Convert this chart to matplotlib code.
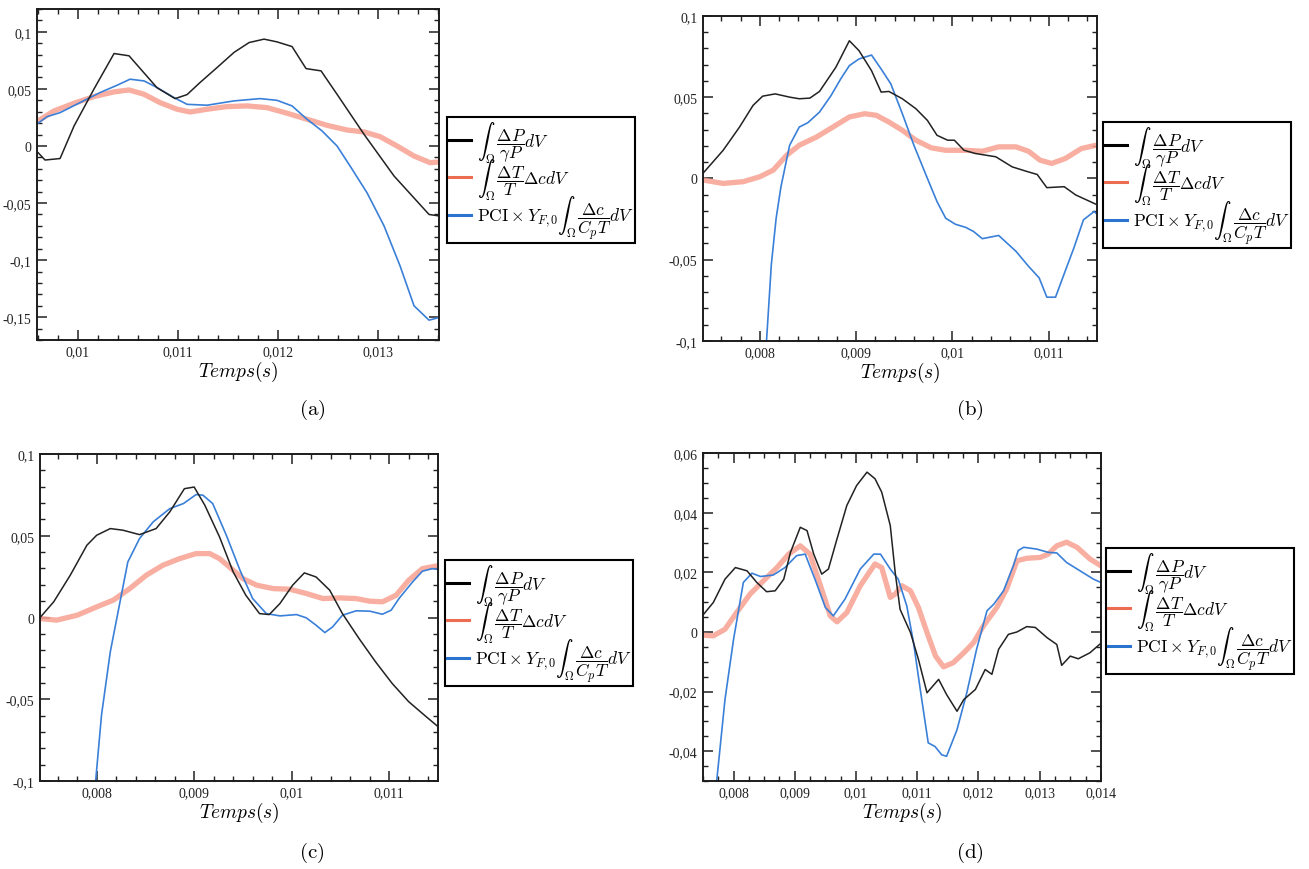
import matplotlib
matplotlib.use("Agg")
import matplotlib.pyplot as plt
from matplotlib.lines import Line2D
from matplotlib.ticker import MultipleLocator, FuncFormatter

plt.rcParams["font.family"] = "serif"
plt.rcParams["font.serif"] = ["Liberation Serif", "DejaVu Serif"]
plt.rcParams["mathtext.fontset"] = "cm"

# ---- (a) ----
a_black_t = [0.00960, 0.00967, 0.00982, 0.00996, 0.01016, 0.01036, 0.01051, 0.01079, 0.01097, 0.01109,
             0.01122, 0.01139, 0.01156, 0.01171, 0.01186, 0.01199, 0.01214, 0.01228, 0.01243, 0.01259,
             0.01286, 0.01316, 0.01351, 0.01362]
a_black_v = [-0.0058, -0.0123, -0.011, 0.0175, 0.050, 0.081, 0.079, 0.051, 0.0415, 0.045,
             0.0556, 0.0687, 0.082, 0.0906, 0.0936, 0.0912, 0.0871, 0.0678, 0.0658, 0.0453,
             0.0102, -0.0263, -0.060, -0.0614]
a_blue_t = [0.00960, 0.00969, 0.00982, 0.01002, 0.01022, 0.01039, 0.01052, 0.01066, 0.01079, 0.01096,
            0.01109, 0.01129, 0.01156, 0.01182, 0.01199, 0.01214, 0.01229, 0.01244, 0.01259, 0.01272,
            0.01289, 0.01306, 0.01322, 0.01336, 0.01351, 0.01362]
a_blue_v = [0.0199, 0.0257, 0.0292, 0.038, 0.0468, 0.0532, 0.0585, 0.057, 0.0512, 0.0424,
            0.0365, 0.0357, 0.0395, 0.0415, 0.040, 0.0351, 0.0234, 0.0132, 0.0, -0.0175,
            -0.041, -0.070, -0.105, -0.140, -0.1526, -0.150]
a_red_t = [0.00960, 0.00976, 0.00996, 0.01016, 0.01036, 0.01051, 0.01066, 0.01082, 0.01099, 0.01112,
           0.01129, 0.01149, 0.01169, 0.01189, 0.01209, 0.01229, 0.01249, 0.01269, 0.01286, 0.01302,
           0.01319, 0.01336, 0.01352, 0.01362]
a_red_v = [0.022, 0.0307, 0.0374, 0.0433, 0.0474, 0.0491, 0.0453, 0.038, 0.0322, 0.0298,
           0.0322, 0.0345, 0.0351, 0.0336, 0.0287, 0.0234, 0.0181, 0.014, 0.0123, 0.0082,
           0.0, -0.0088, -0.0146, -0.014]

# ---- (b) ----
b_black_t = [0.00741, 0.00762, 0.00779, 0.00793, 0.00803, 0.00816, 0.00831, 0.00841, 0.00852, 0.00862,
             0.00879, 0.00893, 0.00903, 0.00916, 0.00926, 0.00934, 0.00948, 0.00962, 0.00974, 0.00984,
             0.00995, 0.01002, 0.01012, 0.01024, 0.01045, 0.01062, 0.01076, 0.01088, 0.01098, 0.01116,
             0.01128, 0.01149]
b_black_v = [0.0031, 0.0173, 0.0316, 0.0449, 0.0506, 0.052, 0.050, 0.049, 0.0494, 0.0535,
             0.0684, 0.0847, 0.0786, 0.0663, 0.0531, 0.0535, 0.049, 0.0429, 0.0357, 0.0265,
             0.0235, 0.0235, 0.0173, 0.0153, 0.0133, 0.0071, 0.0045, 0.0024, -0.0057, -0.0051,
             -0.0102, -0.0159]
b_blue_t = [0.00807, 0.00812, 0.00817, 0.00822, 0.00831, 0.00841, 0.00850, 0.00862, 0.00874, 0.00884,
            0.00893, 0.00903, 0.00916, 0.00926, 0.00936, 0.00948, 0.00960, 0.00974, 0.00984, 0.00993,
            0.01003, 0.01014, 0.01022, 0.01031, 0.01048, 0.01066, 0.01079, 0.01090, 0.01098, 0.01107,
            0.01117, 0.01126, 0.01136, 0.01147, 0.01149]
b_blue_v = [-0.100, -0.053, -0.0245, -0.0051, 0.0204, 0.0316, 0.0343, 0.0408, 0.051, 0.0612,
            0.0694, 0.0735, 0.0759, 0.0673, 0.0582, 0.0398, 0.0204, 0.0, -0.0143, -0.0245,
            -0.0282, -0.0302, -0.0327, -0.0371, -0.0351, -0.0449, -0.0541, -0.0612, -0.0731, -0.0731,
            -0.0571, -0.0429, -0.0255, -0.0204, -0.0214]
b_red_t = [0.00741, 0.00762, 0.00783, 0.00800, 0.00814, 0.00828, 0.00841, 0.00859, 0.00876, 0.00893,
           0.00909, 0.00921, 0.00934, 0.00948, 0.00962, 0.00978, 0.00993, 0.01014, 0.01031, 0.01048,
           0.01066, 0.01079, 0.01091, 0.01103, 0.01117, 0.01134, 0.01149]
b_red_v = [-0.001, -0.0031, -0.002, 0.001, 0.0051, 0.0143, 0.0204, 0.0255, 0.0316, 0.0378,
           0.0398, 0.0388, 0.0347, 0.0296, 0.0235, 0.0188, 0.0173, 0.0173, 0.0167, 0.0194,
           0.0194, 0.0167, 0.0112, 0.0092, 0.0122, 0.0184, 0.0204]

# ---- (c) ----
c_black_t = [0.00742, 0.00756, 0.00773, 0.00790, 0.00800, 0.00814, 0.00827, 0.00844, 0.00861, 0.00875,
             0.00890, 0.00900, 0.00911, 0.00926, 0.00940, 0.00953, 0.00967, 0.00977, 0.00988, 0.01001,
             0.01013, 0.01025, 0.01039, 0.01052, 0.01069, 0.01086, 0.01103, 0.01120, 0.01138, 0.01149]
c_black_v = [0.0, 0.0096, 0.0259, 0.0442, 0.0503, 0.0544, 0.0534, 0.0507, 0.0544, 0.0646,
             0.0788, 0.0798, 0.0686, 0.0493, 0.0279, 0.0136, 0.0024, 0.0018, 0.0086, 0.0198,
             0.0273, 0.0248, 0.0167, 0.0024, -0.0128, -0.0271, -0.0403, -0.0515, -0.0607, -0.0662]
c_blue_t = [0.00799, 0.00805, 0.00814, 0.00824, 0.00832, 0.00844, 0.00858, 0.00875, 0.00889, 0.00902,
            0.00909, 0.00919, 0.00933, 0.00947, 0.00960, 0.00974, 0.00988, 0.01005, 0.01015, 0.01025,
            0.01034, 0.01042, 0.01052, 0.01066, 0.01080, 0.01093, 0.01102, 0.01110, 0.01124, 0.01134,
            0.01144, 0.01149]
c_blue_v = [-0.100, -0.0597, -0.021, 0.0096, 0.034, 0.0483, 0.0585, 0.0666, 0.0697, 0.0752,
            0.0748, 0.0697, 0.0503, 0.0289, 0.0116, 0.0024, 0.001, 0.0018, -0.0002, -0.0047,
            -0.0092, -0.0057, 0.0014, 0.0041, 0.0039, 0.002, 0.0045, 0.0116, 0.0218, 0.0283,
            0.0299, 0.0295]
c_red_t = [0.00742, 0.00759, 0.00780, 0.00800, 0.00817, 0.00834, 0.00851, 0.00868, 0.00885, 0.00902,
           0.00916, 0.00926, 0.00936, 0.00950, 0.00964, 0.00981, 0.00998, 0.01015, 0.01032, 0.01049,
           0.01066, 0.01080, 0.01093, 0.01107, 0.01120, 0.01134, 0.01149]
c_red_v = [-0.0006, -0.0016, 0.0014, 0.0065, 0.0106, 0.0177, 0.0259, 0.032, 0.036, 0.0391,
           0.0391, 0.036, 0.031, 0.0238, 0.0198, 0.0177, 0.0173, 0.0147, 0.0116, 0.012,
           0.0116, 0.010, 0.0096, 0.0136, 0.0228, 0.0299, 0.0316]

# ---- (d) ----
d_black_t = [0.00751, 0.00767, 0.00786, 0.00803, 0.00822, 0.00838, 0.00854, 0.00868, 0.00882, 0.00893,
             0.00909, 0.00920, 0.00931, 0.00944, 0.00955, 0.00969, 0.00985, 0.01001, 0.01018, 0.01031,
             0.01042, 0.01056, 0.01064, 0.01072, 0.01089, 0.01102, 0.01116, 0.01135, 0.01148, 0.01165,
             0.01176, 0.01195, 0.01211, 0.01222, 0.01233, 0.01249, 0.01263, 0.01279, 0.01293, 0.01312,
             0.01328, 0.01336, 0.01350, 0.01363, 0.01382, 0.01400]
d_black_v = [0.0059, 0.0099, 0.0177, 0.0216, 0.0205, 0.0166, 0.0135, 0.0138, 0.0177, 0.0267,
             0.0351, 0.034, 0.0261, 0.0194, 0.0211, 0.0312, 0.0424, 0.0491, 0.0536, 0.0514,
             0.0469, 0.0357, 0.020, 0.0076, -0.0002, -0.0092, -0.0204, -0.0159, -0.021, -0.0266,
             -0.0227, -0.0193, -0.0126, -0.0142, -0.0058, -0.0008, 0.0, 0.0018, 0.0015, -0.0019,
             -0.0042, -0.0112, -0.0081, -0.009, -0.007, -0.0038]
d_blue_t = [0.00770, 0.00786, 0.00800, 0.00816, 0.00830, 0.00844, 0.00865, 0.00884, 0.00903, 0.00917,
            0.00933, 0.00950, 0.00963, 0.00982, 0.01007, 0.01029, 0.01040, 0.01056, 0.01069, 0.01083,
            0.01094, 0.01105, 0.01118, 0.01129, 0.01140, 0.01148, 0.01165, 0.01181, 0.01197, 0.01214,
            0.01225, 0.01241, 0.01257, 0.01265, 0.01274, 0.01295, 0.01314, 0.01328, 0.01344, 0.01366,
            0.01388, 0.01400]
d_blue_v = [-0.055, -0.0227, -0.0025, 0.0166, 0.0197, 0.0186, 0.0191, 0.0216, 0.0256, 0.0261,
            0.0177, 0.0082, 0.0054, 0.011, 0.0211, 0.0261, 0.0261, 0.0211, 0.0177, 0.0087,
            -0.0036, -0.0193, -0.0372, -0.0384, -0.0412, -0.0417, -0.0328, -0.0204, -0.0058, 0.0071,
            0.0093, 0.0138, 0.0222, 0.0273, 0.0284, 0.0278, 0.0267, 0.0265, 0.0233, 0.0205,
            0.0177, 0.0166]
d_red_t = [0.00751, 0.00767, 0.00786, 0.00805, 0.00827, 0.00849, 0.00871, 0.00890, 0.00909, 0.00925,
           0.00942, 0.00958, 0.00969, 0.00985, 0.01007, 0.01031, 0.01042, 0.01056, 0.01064, 0.01075,
           0.01089, 0.01102, 0.01116, 0.01130, 0.01143, 0.01159, 0.01176, 0.01192, 0.01208, 0.01230,
           0.01246, 0.01263, 0.01279, 0.01301, 0.01314, 0.01328, 0.01344, 0.01361, 0.01382, 0.01400]
d_red_v = [-0.0011, -0.0013, 0.0009, 0.0065, 0.0127, 0.0172, 0.0216, 0.0261, 0.0289, 0.0261,
           0.0155, 0.0054, 0.0034, 0.0065, 0.0155, 0.0228, 0.0216, 0.0116, 0.0127, 0.0155,
           0.0138, 0.0082, -0.0002, -0.0081, -0.0117, -0.0103, -0.007, -0.0036, 0.002, 0.0082,
           0.0144, 0.0239, 0.0247, 0.025, 0.0261, 0.0289, 0.0301, 0.0284, 0.0245, 0.0222]

labels = [r"$\int_{\Omega}\,\dfrac{\Delta P}{\gamma P}dV$",
          r"$\int_{\Omega}\,\dfrac{\Delta T}{T}\Delta c dV$",
          r"$\mathrm{PCI}\times Y_{F,0}\int_{\Omega}\,\dfrac{\Delta c}{C_p T}dV$"]

BLACK = "#222222"
RED = "#f7a08f"
BLUE = "#3a80d8"


def comma(v, pos):
    s = f"{round(v, 6):g}"
    if s == "-0":
        s = "0"
    return s.replace(".", ",")


fig = plt.figure(figsize=(13.09, 8.70), dpi=100)

panels = [
    # data, axes rect, xlim, ylim, x major/minor, y major/minor, legend anchor, caption
    ((a_black_t, a_black_v, a_red_t, a_red_v, a_blue_t, a_blue_v),
     [0.0283, 0.608, 0.3071, 0.3805], (0.00959, 0.01361), (-0.17, 0.12),
     (0.001, 0.0002), (0.05, 0.01), (447, 118), "(a)", (312, 410)),
    ((b_black_t, b_black_v, b_red_t, b_red_v, b_blue_t, b_blue_v),
     [0.537, 0.607, 0.301, 0.3736], (0.00741, 0.0115), (-0.1, 0.1),
     (0.001, 0.0002), (0.05, 0.01), (1103, 123), "(b)", (970, 410)),
    ((c_black_t, c_black_v, c_red_t, c_red_v, c_blue_t, c_blue_v),
     [0.0306, 0.1011, 0.304, 0.3759], (0.00742, 0.0115), (-0.1, 0.1),
     (0.001, 0.0002), (0.05, 0.01), (445, 561), "(c)", (312, 853)),
    ((d_black_t, d_black_v, d_red_t, d_red_v, d_blue_t, d_blue_v),
     [0.537, 0.1011, 0.304, 0.377], (0.0075, 0.014), (-0.05, 0.06),
     (0.001, 0.00025), (0.02, 0.005), (1106, 549), "(d)", (970, 853)),
]

for data, rect, xl, yl, xt, yt, leg_xy, cap, cap_xy in panels:
    ax = fig.add_axes(rect)
    bt, bv, rt, rv, ut, uv = data
    ax.plot(rt, rv, color=RED, lw=3.8, alpha=0.85, solid_capstyle="round")
    ax.plot(ut, uv, color=BLUE, lw=1.2)
    ax.plot(bt, bv, color=BLACK, lw=1.1)
    ax.set_xlim(*xl)
    ax.set_ylim(*yl)
    ax.xaxis.set_major_locator(MultipleLocator(xt[0]))
    ax.xaxis.set_minor_locator(MultipleLocator(xt[1]))
    ax.yaxis.set_major_locator(MultipleLocator(yt[0]))
    ax.yaxis.set_minor_locator(MultipleLocator(yt[1]))
    ax.xaxis.set_major_formatter(FuncFormatter(comma))
    ax.yaxis.set_major_formatter(FuncFormatter(comma))
    ax.tick_params(which="both", direction="in", top=True, right=True, labelsize=10,
                   colors="#222222", pad=4)
    ax.tick_params(which="major", length=7, width=1.1)
    ax.tick_params(which="minor", length=3.5, width=1.0)
    for sp in ax.spines.values():
        sp.set_color("#1c1c1c")
        sp.set_linewidth(1.4)
    ax.set_xlabel(r"$Temps(s)$", fontsize=14, labelpad=0)

    handles = [Line2D([], [], color="black", lw=2.2),
               Line2D([], [], color="#ec6d52", lw=2.2),
               Line2D([], [], color="#2a74d0", lw=2.2)]
    leg = ax.legend(handles, labels, loc="upper left",
                    bbox_to_anchor=(leg_xy[0] / 1309, 1 - leg_xy[1] / 870),
                    bbox_transform=fig.transFigure, borderaxespad=0,
                    fontsize=12.5, frameon=True, fancybox=False, framealpha=1,
                    handlelength=1.3, handletextpad=0.3, labelspacing=-0.5,
                    borderpad=0.1)
    leg.get_frame().set_edgecolor("black")
    leg.get_frame().set_linewidth(1.5)

    fig.text(cap_xy[0] / 1309, 1 - cap_xy[1] / 870, r"$\mathrm{" + cap + "}$",
             ha="center", va="center", fontsize=15)

fig.savefig("out.png", dpi=100)
